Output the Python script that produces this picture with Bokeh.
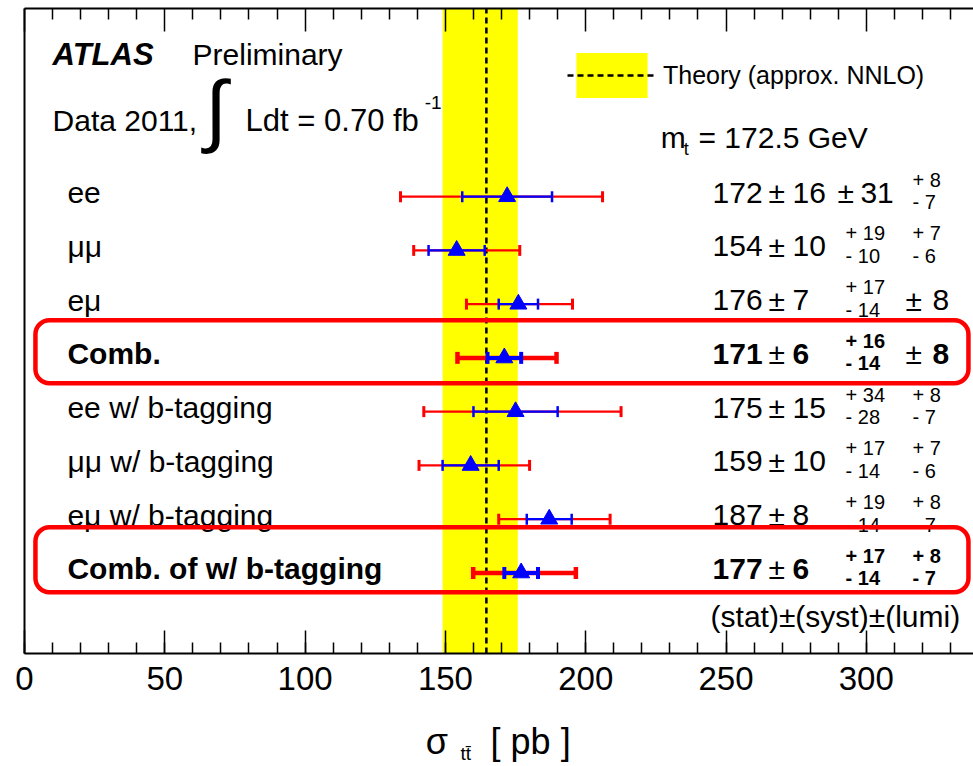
import math
from bokeh.plotting import figure
from bokeh.layouts import column
from bokeh.models import (Range1d, LinearAxis, SingleIntervalTicker, FixedTicker,
                          ColumnDataSource, BoxAnnotation, Legend, LegendItem)
from bokeh.core.properties import value
from bokeh.embed import file_html
from bokeh.resources import INLINE

# ---------------- data ----------------
labels = ["ee", "μμ", "eμ", "Comb.", "ee w/ b-tagging", "μμ w/ b-tagging",
          "eμ w/ b-tagging", "Comb. of w/ b-tagging"]
xsec = [172, 154, 176, 171, 175, 159, 187, 177]
stat = [16, 10, 7, 6, 15, 10, 8, 6]
syst_up = [31, 19, 17, 16, 34, 17, 19, 17]
syst_dn = [31, 10, 14, 14, 28, 14, 14, 14]
lumi_up = [8, 7, 8, 8, 8, 7, 8, 8]
lumi_dn = [7, 6, 8, 8, 7, 6, 7, 7]
total_lo = [134.0, 138.7, 157.5, 154.3, 142.3, 140.6, 169.0, 159.9]
total_hi = [206.0, 176.5, 195.3, 189.6, 212.6, 180.0, 208.7, 196.5]
combined = [False, False, False, True, False, False, False, True]

theory = 164.6
theory_lo = 149.0
theory_hi = 175.8
theory_label = "Theory (approx. NNLO)"
mt_text = "= 172.5 GeV"

major_ticks = [0, 50, 100, 150, 200, 250, 300]
minor_ticks = [10, 20, 30, 40, 60, 70, 80, 90, 110, 120, 130, 140, 160, 170, 180, 190,
               210, 220, 230, 240, 260, 270, 280, 290, 310, 320, 330]

FONT = "Liberation Sans"
RED = "#ff0000"
BLUE = "#0000ff"
YELLOW = "#ffff00"

n = len(labels)
rows = [n - i for i in range(n)]

X0, X1 = 0, 338.2
Y0, Y1 = -0.5, 11.5
PXY = 53.75          # pixels per y unit in the main frame

p = figure(width=973, height=713, output_backend="svg", toolbar_location=None,
           x_range=Range1d(X0, X1), y_range=Range1d(Y0, Y1),
           min_border_left=24, min_border_right=0, min_border_top=8,
           min_border_bottom=60)
p.outline_line_color = None
p.grid.visible = False
p.background_fill_color = "white"
p.border_fill_color = "white"

# bottom axis
ax = p.xaxis[0]
ax.ticker = SingleIntervalTicker(interval=50, num_minor_ticks=5)
ax.major_tick_in = 23
ax.major_tick_out = 0
ax.minor_tick_in = 11
ax.minor_tick_out = 0
ax.axis_line_width = 2
ax.major_tick_line_width = 1.5
ax.minor_tick_line_width = 1.5
ax.major_label_text_font = FONT
ax.major_label_text_font_size = "33px"
ax.major_label_text_color = "black"
ax.major_label_standoff = 13

# top axes (ticks only, no labels)
for ticks, length, lw in ((minor_ticks, 11, 2), (major_ticks, 23, 0)):
    t = LinearAxis(ticker=FixedTicker(ticks=[], minor_ticks=ticks),
                   major_tick_in=0, major_tick_out=0, minor_tick_in=length, minor_tick_out=0,
                   axis_line_width=2 if lw else 0, axis_line_color="black" if lw else None,
                   minor_tick_line_width=1.5, major_label_standoff=0, axis_label_standoff=0)
    p.add_layout(t, "above")

# left frame line
ya = p.yaxis[0]
ya.ticker = FixedTicker(ticks=[])
ya.axis_line_width = 2
ya.major_tick_line_color = None
ya.minor_tick_line_color = None
ya.major_label_standoff = 0

# theory band and line
band = p.quad(left=[theory_lo], right=[theory_hi], bottom=[Y0], top=[Y1],
              fill_color=YELLOW, line_color=None)
tline = p.line(x=[theory, theory], y=[Y0, Y1], line_color="black",
               line_width=2.5, line_dash="6 4")

# error bars
src = ColumnDataSource(dict(
    row=rows, x=xsec,
    slo=[v - s for v, s in zip(xsec, stat)],
    shi=[v + s for v, s in zip(xsec, stat)],
    tlo=total_lo, thi=total_hi,
    lw_red=[4.5 if c else 2.2 for c in combined],
    lw_blue=[4.0 if c else 2.2 for c in combined],
    cw_red=[4.5 if c else 3.0 for c in combined],
    cw_blue=[4.0 if c else 2.5 for c in combined],
    cap=[12 if c else 11 for c in combined],
))
p.segment(x0="tlo", y0="row", x1="thi", y1="row", line_color=RED,
          line_width="lw_red", source=src)
for col in ("tlo", "thi"):
    p.scatter(x=col, y="row", marker="dash", angle=math.pi / 2, size="cap",
              line_color=RED, line_width="cw_red", source=src)
p.segment(x0="slo", y0="row", x1="shi", y1="row", line_color=BLUE,
          line_width="lw_blue", source=src)
for col in ("slo", "shi"):
    p.scatter(x=col, y="row", marker="dash", angle=math.pi / 2, size="cap",
              line_color=BLUE, line_width="cw_blue", source=src)
p.scatter(x="x", y="row", marker="triangle", size=17, fill_color=BLUE,
          line_color=BLUE, source=src)

# highlighted boxes around combined rows
box_pad = [(0.47, 0.70), (0.36, 0.85)]
crow = [r for r, c in zip(rows, combined) if c]
for r, (dn, up) in zip(crow, box_pad):
    p.add_layout(BoxAnnotation(left=3.9, right=336.4, bottom=r - dn, top=r + up,
                               fill_alpha=0, line_color=RED, line_alpha=1.0,
                               line_width=4.5, border_radius=14))


# ---- texts ----
def txt(fig, xs, ys, texts, size, styles=None, align="left", baseline="alphabetic",
        font=FONT, pxy=PXY):
    fs = float(size.replace("px", ""))
    shift = 0.3 * fs / pxy if baseline == "alphabetic" else 0.0
    d = dict(x=xs, y=[y + shift for y in ys], t=texts,
             s=styles if styles else ["normal"] * len(xs))
    fig.text(x="x", y="y", text="t", source=ColumnDataSource(d),
             text_font=value(font), text_font_size=value(size), text_font_style="s",
             text_align=align, text_baseline=baseline, text_color="black")


bstyle = ["bold" if c else "normal" for c in combined]
base = [r - 0.093 for r in rows]
sup_hi = [r + 0.205 for r in rows]
sup_lo = [r - 0.214 for r in rows]

txt(p, [15.3] * n, base, labels, "30px", bstyle)
txt(p, [245.2] * n, base, [str(v) for v in xsec], "30px", bstyle)
txt(p, [265.1] * n, base, ["±"] * n, "30px")
txt(p, [273.7] * n, base, [str(v) for v in stat], "30px", bstyle)

# systematic
sym_s = [i for i in range(n) if syst_up[i] == syst_dn[i]]
asym_s = [i for i in range(n) if syst_up[i] != syst_dn[i]]
if sym_s:
    txt(p, [289.7] * len(sym_s), [base[i] for i in sym_s], ["±"] * len(sym_s), "30px")
    txt(p, [297.9] * len(sym_s), [base[i] for i in sym_s], [str(syst_up[i]) for i in sym_s],
        "30px", [bstyle[i] for i in sym_s])
txt(p, [292.6] * len(asym_s), [sup_hi[i] for i in asym_s], ["+ %d" % syst_up[i] for i in asym_s],
    "20px", [bstyle[i] for i in asym_s])
txt(p, [292.6] * len(asym_s), [sup_lo[i] for i in asym_s], ["- %d" % syst_dn[i] for i in asym_s],
    "20px", [bstyle[i] for i in asym_s])

# luminosity
sym_l = [i for i in range(n) if lumi_up[i] == lumi_dn[i]]
asym_l = [i for i in range(n) if lumi_up[i] != lumi_dn[i]]
txt(p, [314.0] * len(sym_l), [base[i] for i in sym_l], ["±"] * len(sym_l), "30px")
txt(p, [323.6] * len(sym_l), [base[i] for i in sym_l], [str(lumi_up[i]) for i in sym_l],
    "30px", [bstyle[i] for i in sym_l])
txt(p, [316.5] * len(asym_l), [sup_hi[i] for i in asym_l], ["+ %d" % lumi_up[i] for i in asym_l],
    "20px", [bstyle[i] for i in asym_l])
txt(p, [316.5] * len(asym_l), [sup_lo[i] for i in asym_l], ["- %d" % lumi_dn[i] for i in asym_l],
    "20px", [bstyle[i] for i in asym_l])

txt(p, [244.5], [0.03], ["(stat)±(syst)±(lumi)"], "30px")

# header texts
txt(p, [10.0], [10.48], ["ATLAS"], "31px", ["bold italic"])
txt(p, [59.9], [10.48], ["Preliminary"], "30px")
txt(p, [10.0], [9.24], ["Data 2011,"], "30px")
txt(p, [68.3], [9.63], ["∫"], "80px", align="center", baseline="middle")
txt(p, [78.8], [9.24], ["Ldt = 0.70 fb"], "31px")
txt(p, [142.6], [9.65], ["-1"], "19px")
txt(p, [226.7], [8.93], ["m"], "30px")
txt(p, [234.9], [8.78], ["t"], "18px")
txt(p, [240.2], [8.93], [mt_text], "30px")

# legend
legend = Legend(items=[LegendItem(label=theory_label, renderers=[band, tline])],
                location=(543, 550), glyph_width=89, glyph_height=56, padding=0, margin=0,
                label_standoff=7, border_line_color=None, background_fill_alpha=0,
                label_text_font=FONT, label_text_font_size="25px",
                label_text_color="black")
p.add_layout(legend)

# ---- x-axis title strip (below the main plot) ----
p2 = figure(width=973, height=53, output_backend="svg", toolbar_location=None,
            x_range=p.x_range, y_range=Range1d(0, 1), x_axis_type=None, y_axis_type=None,
            min_border_left=24, min_border_right=0, min_border_top=0, min_border_bottom=0)
p2.outline_line_color = None
p2.grid.visible = False
H2 = 53.0
txt(p2, [143.0], [(766 - 752) / H2], ["σ"], "36px", pxy=H2)
txt(p2, [155.4], [(766 - 759) / H2], ["tt̄"], "19px", pxy=H2)
txt(p2, [166.1], [(766 - 752) / H2], ["[ pb ]"], "36px", pxy=H2)

layout = column(p, p2, spacing=0)
open("out.html", "w").write(file_html(layout, INLINE))
